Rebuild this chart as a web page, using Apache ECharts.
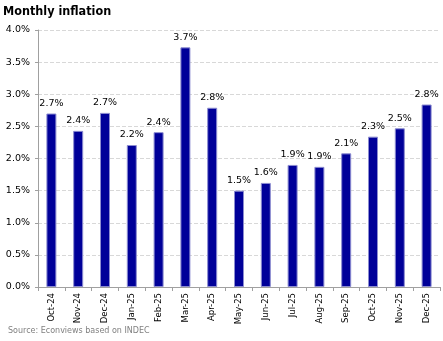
<!DOCTYPE html>
<html><head><meta charset="utf-8">
<script src="https://cdn.jsdelivr.net/npm/echarts@6/dist/echarts.min.js"></script>
<style>html,body{margin:0;padding:0;background:#fff}#c{width:443px;height:341px}</style>
</head><body><div id="c"></div>
<script>
const categories = ["Oct-24","Nov-24","Dec-24","Jan-25","Feb-25","Mar-25","Apr-25","May-25","Jun-25","Jul-25","Aug-25","Sep-25","Oct-25","Nov-25","Dec-25"];
const inflation = [2.70, 2.43, 2.71, 2.21, 2.41, 3.73, 2.79, 1.50, 1.62, 1.90, 1.87, 2.08, 2.34, 2.47, 2.84];
const titleText = "Monthly inflation";
const sourceText = "Source: Econviews based on INDEC";
const chart = echarts.init(document.getElementById('c'), null, {renderer:'canvas'});
chart.setOption({
  animation:false,
  backgroundColor:'#fff',
  title:[{text:titleText,left:3,top:5,padding:0,textStyle:{fontFamily:'DejaVu Sans Condensed',fontWeight:'bold',fontSize:12.5,color:'#000'}},
         {text:sourceText,left:8,top:327,padding:0,textStyle:{fontFamily:'DejaVu Sans',fontWeight:'normal',fontSize:8,color:'#808080'}}],
  grid:{left:38,right:3,top:30,bottom:54},
  xAxis:{type:'category',data:categories,boundaryGap:true,
    axisLine:{lineStyle:{color:'#a0a0a0'}},
    axisTick:{show:true,length:4,lineStyle:{color:'#a0a0a0'}},
    axisLabel:{rotate:90,fontFamily:'DejaVu Sans',fontSize:8.5,color:'#000',margin:6,interval:0}},
  yAxis:{type:'value',min:0,max:4,interval:0.5,
    axisLine:{show:true,lineStyle:{color:'#a0a0a0'}},
    axisTick:{show:true,length:3,lineStyle:{color:'#a0a0a0'}},
    splitLine:{lineStyle:{color:'#d8d8d8',type:'dashed'}},
    axisLabel:{formatter:v=>v.toFixed(1)+'%',fontFamily:'DejaVu Sans',fontSize:9.5,color:'#000',margin:8}},
  series:[{type:'bar',data:inflation,barWidth:10,
    itemStyle:{color:'#000099',borderColor:'#8c8cd0',borderWidth:1},
    label:{show:true,position:'top',distance:5,formatter:p=>p.value.toFixed(1)+'%',fontFamily:'DejaVu Sans',fontSize:9.5,color:'#000'}}]
});
</script></body></html>
